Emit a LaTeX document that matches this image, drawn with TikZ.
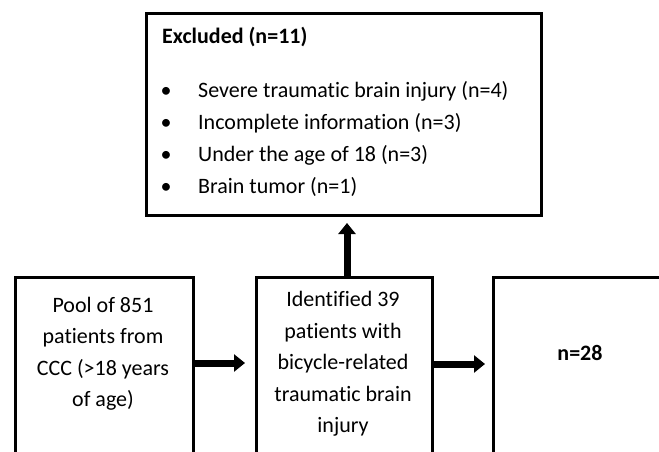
\documentclass[tikz,border=0pt]{standalone}
\usepackage{fontspec}
\setmainfont[Ligatures={NoCommon}]{Carlito}
\usetikzlibrary{arrows.meta}
\begin{document}
\begin{tikzpicture}[x=1pt,y=-1pt,
  box/.style={draw, line width=2.8pt, rectangle, inner sep=0pt, anchor=north west},
  txt/.style={font=\fontsize{22}{31.5}\selectfont, align=center, inner sep=0pt, anchor=north},
  bigarrow/.style={line width=7pt, -{Triangle[length=11pt,width=17pt]}}]
\useasboundingbox (0,0) rectangle (659,452);
\clip (0,0) rectangle (659,452);
% boxes
\node[box, minimum width=395pt, minimum height=202pt] (ex) at (145,12) {};
\node[box, minimum width=178pt, minimum height=200pt] (pool) at (14,276) {};
\node[box, minimum width=176pt, minimum height=200pt] (ident) at (255,276) {};
\node[box, minimum width=200pt, minimum height=200pt] (final) at (492,276) {};
% texts
\node[anchor=west, inner sep=0pt, font=\fontsize{22}{32}\selectfont\bfseries] (extitle) at (162,37) {Excluded (n=11)};
\node[anchor=north west, inner sep=0pt, font=\fontsize{22}{32}\selectfont] (exlist) at (160.5,75.3)
  {\begin{tabular}{@{}p{37.5pt}@{}l@{}}
   \textbullet & Severe traumatic brain injury (n=4)\\
   \textbullet & Incomplete information (n=3)\\
   \textbullet & Under the age of 18 (n=3)\\
   \textbullet & Brain tumor (n=1)
   \end{tabular}};
\node[txt] (pooltxt) at (103,297) {Pool of 851\\patients from\\CCC (>18 years\\of age)};
\node[txt] (identtxt) at (343,291.5) {Identified 39\\patients with\\bicycle-related\\traumatic brain\\injury};
\node[inner sep=0pt, font=\fontsize{22}{32}\selectfont\bfseries] (n28) at (580,353) {n=28};
% arrow ends
\coordinate (a1s) at (pool.east |- 0,363);
\coordinate (a1e) at (245,363);
\coordinate (a2s) at (ident.east |- 0,364);
\coordinate (a2e) at (485,364);
\coordinate (a3s) at (347,276);
\coordinate (a3e) at (347,223);
\draw[bigarrow] (a1s) -- (a1e);
\draw[bigarrow] (a2s) -- (a2e);
\draw[bigarrow] (a3s) -- (a3e);
\end{tikzpicture}
\end{document}
